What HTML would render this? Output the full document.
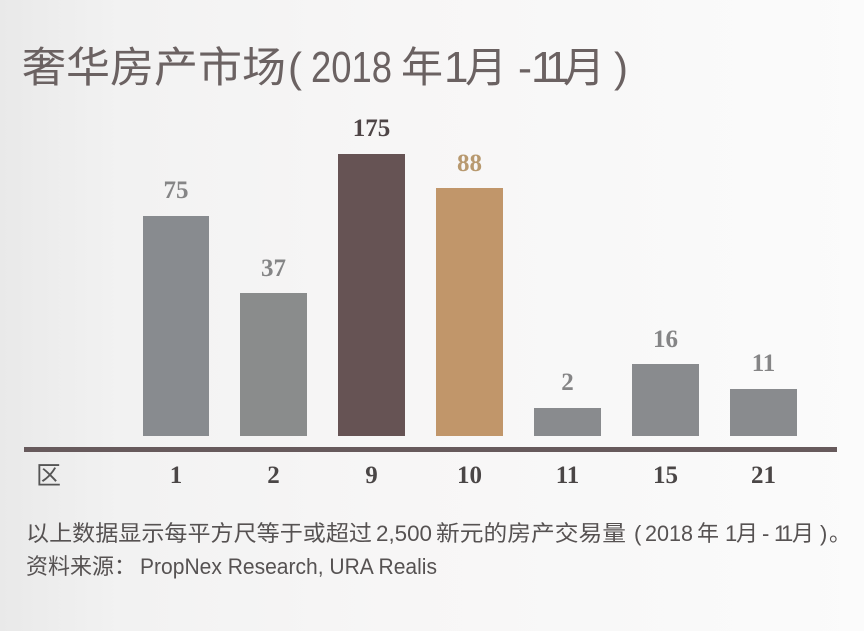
<!DOCTYPE html>
<html>
<head>
<meta charset="utf-8">
<style>
  html, body { margin:0; padding:0; }
  body {
    width:864px; height:631px; overflow:hidden;
    background: linear-gradient(90deg, #e9e9e9 0%, #f2f2f2 14%, #f7f6f6 45%, #f9f9f9 80%, #fbfbfb 100%);
  }
  svg { position:absolute; left:0; top:0; }
  .cjk { font-family: "Liberation Sans", "Noto Sans CJK SC", sans-serif; }
  .lat { font-family: "Liberation Sans", sans-serif; }
  .num { font-family: "Liberation Serif", serif; font-weight: bold; font-size: 25px; }
</style>
</head>
<body>
<svg width="864" height="631" viewBox="0 0 864 631" xmlns="http://www.w3.org/2000/svg">
  <!-- Title -->
  <g fill="#6b6262">
    <text class="cjk" x="22" y="82" font-size="42" textLength="264" lengthAdjust="spacingAndGlyphs">奢华房产市场</text>
    <text class="lat" x="288" y="82" font-size="42">(</text>
    <text class="lat" x="311" y="82" font-size="44" textLength="81" lengthAdjust="spacingAndGlyphs">2018</text>
    <text class="cjk" x="401" y="82" font-size="42">年</text>
    <text class="lat" x="444" y="82" font-size="44">1</text>
    <text class="cjk" x="465" y="82" font-size="42">月</text>
    <text class="lat" x="518" y="82" font-size="42">-</text>
    <text class="lat" x="531" y="82" font-size="44">1</text>
    <text class="lat" x="545" y="82" font-size="44">1</text>
    <text class="cjk" x="563" y="82" font-size="42">月</text>
    <text class="lat" x="614" y="82" font-size="42">)</text>
  </g>

  <!-- Bars -->
  <rect x="143" y="216" width="66" height="220" fill="#888b8f"/>
  <rect x="240" y="293" width="67" height="143" fill="#8a8c8c"/>
  <rect x="338" y="154" width="67" height="282" fill="#665354"/>
  <rect x="436" y="188" width="67" height="248" fill="#c1966a"/>
  <rect x="534" y="408" width="67" height="28" fill="#898b8e"/>
  <rect x="632" y="364" width="67" height="72" fill="#898b8e"/>
  <rect x="730" y="389" width="67" height="47" fill="#898b8e"/>

  <!-- Value labels -->
  <g class="num" text-anchor="middle">
    <text x="176" y="198" fill="#858586">75</text>
    <text x="273.5" y="276" fill="#858586">37</text>
    <text x="371.5" y="136" fill="#4e4546">175</text>
    <text x="469.5" y="171" fill="#b8996f">88</text>
    <text x="567.5" y="390" fill="#858586">2</text>
    <text x="665.5" y="347" fill="#858586">16</text>
    <text x="763.5" y="371" fill="#858586">11</text>
  </g>

  <!-- Axis line -->
  <rect x="24" y="447" width="813" height="5" fill="#675a5c"/>

  <!-- Category labels -->
  <text class="cjk" x="36" y="484" font-size="25" fill="#555">区</text>
  <g class="num" text-anchor="middle" fill="#4a4646">
    <text x="176" y="483">1</text>
    <text x="273.5" y="483">2</text>
    <text x="371.5" y="483">9</text>
    <text x="469.5" y="483">10</text>
    <text x="567.5" y="483">11</text>
    <text x="665.5" y="483">15</text>
    <text x="763.5" y="483">21</text>
  </g>

  <!-- Footnote line 1 -->
  <g fill="#565252">
    <text class="cjk" x="26" y="541" font-size="22" textLength="346" lengthAdjust="spacingAndGlyphs">以上数据显示每平方尺等于或超过</text>
    <text class="lat" x="376" y="541" font-size="22" textLength="56" lengthAdjust="spacingAndGlyphs">2,500</text>
    <text class="cjk" x="436" y="541" font-size="22" textLength="190" lengthAdjust="spacingAndGlyphs">新元的房产交易量</text>
    <text class="lat" x="634" y="541" font-size="22">(</text>
    <text class="lat" x="645" y="541" font-size="22" textLength="48" lengthAdjust="spacingAndGlyphs">2018</text>
    <text class="cjk" x="697" y="541" font-size="22">年</text>
    <text class="lat" x="725" y="541" font-size="22">1</text>
    <text class="cjk" x="736" y="541" font-size="22">月</text>
    <text class="lat" x="762" y="541" font-size="22">-</text>
    <text class="lat" x="774" y="541" font-size="22">1</text>
    <text class="lat" x="781" y="541" font-size="22">1</text>
    <text class="cjk" x="792" y="541" font-size="22">月</text>
    <text class="lat" x="820" y="541" font-size="22">)</text>
    <text class="cjk" x="829" y="541" font-size="22">。</text>
  </g>

  <!-- Footnote line 2 -->
  <g fill="#565252">
    <text class="cjk" x="26" y="574" font-size="22" textLength="110" lengthAdjust="spacingAndGlyphs">资料来源：</text>
    <text class="lat" x="140" y="574" font-size="22" textLength="297" lengthAdjust="spacingAndGlyphs">PropNex Research, URA Realis</text>
  </g>
</svg>
</body>
</html>
